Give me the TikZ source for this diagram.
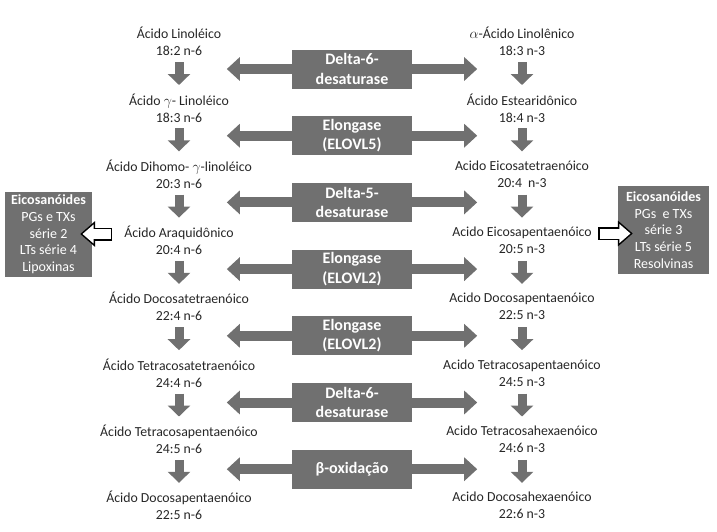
\documentclass[tikz,border=0pt]{standalone}
\usepackage{fontspec}
\setmainfont{Carlito}
\usetikzlibrary{arrows.meta,positioning}
\definecolor{boxgray}{RGB}{112,112,112}
\definecolor{txtgray}{RGB}{38,38,38}

\begin{document}
\begin{tikzpicture}[x=1pt,y=-1pt,line join=round,
	acid/.style={align=center,text=txtgray,font=\fontsize{13.8}{17}\selectfont,inner sep=0pt},
	enzbox/.style={fill=boxgray,text=white,align=center,font=\fontsize{16}{19.5}\selectfont\bfseries,minimum width=120pt,minimum height=39pt,inner sep=0pt},
	sidebox/.style={fill=boxgray,text=white,align=center,font=\fontsize{14}{16.7}\selectfont,inner sep=0pt},
	downarr/.style={boxgray,line width=9pt,-{Triangle[width=22pt,length=11pt]},shorten <=20.5pt,shorten >=22.8pt},
	sidearr/.style={boxgray,line width=10pt,-{Triangle[width=23pt,length=13pt]}},
	hollowout/.style={black,line width=13pt,-{Triangle[width=25pt,length=15pt]}},
	hollowin/.style={white,line width=10pt,-{Triangle[width=18.6pt,length=11.2pt]},shorten <=1.5pt}]
	
	\useasboundingbox (0,0) rectangle (717,531);
	
	% coluna n-6
	\node[acid] (l1) at (179,41.5) {Ácido Linoléico\\18:2 n-6};
	\node[acid] (l2) at (179,107.8) {Ácido $\gamma$- Linoléico\\18:3 n-6};
	\node[acid] (l3) at (179,174.1) {Ácido Dihomo- $\gamma$-linoléico\\20:3 n-6};
	\node[acid] (l4) at (179,240.4) {Ácido Araquidônico\\20:4 n-6};
	\node[acid] (l5) at (179,306.7) {Ácido Docosatetraenóico\\22:4 n-6};
	\node[acid] (l6) at (179,373.0) {Ácido Tetracosatetraenóico\\24:4 n-6};
	\node[acid] (l7) at (179,439.3) {Ácido Tetracosapentaenóico\\24:5 n-6};
	\node[acid] (l8) at (179,505.6) {Ácido Docosapentaenóico\\22:5 n-6};
	
	% coluna n-3
	\node[acid] (r1) at (522,41.5) {$\alpha$-Ácido Linolênico\\18:3 n-3};
	\node[acid] (r2) at (522,107.8) {Ácido Estearidônico\\18:4 n-3};
	\node[acid] (r3) at (522,174.1) {Acido Eicosatetraenóico\\20:4~ n-3};
	\node[acid] (r4) at (522,240.4) {Acido Eicosapentaenóico\\20:5 n-3};
	\node[acid] (r5) at (522,306.7) {Acido Docosapentaenóico\\22:5 n-3};
	\node[acid] (r6) at (522,373.0) {Acido Tetracosapentaenóico\\24:5 n-3};
	\node[acid] (r7) at (522,439.3) {Acido Tetracosahexaenóico\\24:6 n-3};
	\node[acid] (r8) at (522,505.6) {Acido Docosahexaenóico\\22:6 n-3};
	
	% enzimas
	\node[enzbox] (e1) at (352,69) {Delta-6-\\desaturase};
	\node[enzbox] (e2) at (352,135.7) {Elongase\\(ELOVL5)};
	\node[enzbox] (e3) at (352,202.4) {Delta-5-\\desaturase};
	\node[enzbox] (e4) at (352,269.1) {Elongase\\(ELOVL2)};
	\node[enzbox] (e5) at (352,335.8) {Elongase\\(ELOVL2)};
	\node[enzbox] (e6) at (352,402.5) {Delta-6-\\desaturase};
	\node[enzbox] (e7) at (352,469.2) {β-oxidação};
	
	% eicosanoides
	\node[sidebox,minimum width=87pt,minimum height=85pt] (eicoL) at (48.5,234.5) {\textbf{Eicosanóides}\\PGs e TXs\\série 2\\LTs série 4\\Lipoxinas};
	\node[sidebox,minimum width=91pt,minimum height=88pt] (eicoR) at (663.5,230) {\textbf{Eicosanóides}\\PGs~ e TXs\\série 3\\LTs série 5\\Resolvinas};
	
	\foreach \i/\j in {1/2,2/3,3/4,4/5,5/6,6/7,7/8}{
		\draw[downarr] (l\i.center) -- (l\j.center);
		\draw[downarr] (r\i.center) -- (r\j.center);
	}
	\foreach \k in {1,...,7}{
		\coordinate[left=65pt of e\k] (el\k);
		\coordinate[right=65pt of e\k] (er\k);
		\draw[sidearr] (e\k.west) -- (el\k);
		\draw[sidearr] (e\k.east) -- (er\k);
	}
	
	% setas vazadas
	\coordinate (tailL) at (112,234);
	\coordinate (tailR) at (598,233.5);
	\draw[hollowout,shorten >=-12pt] (tailL) -- (tailL -| eicoL.east);
	\draw[hollowin,shorten >=-9.66pt] (tailL) -- (tailL -| eicoL.east);
	\draw[hollowout,shorten >=-15pt] (tailR) -- (tailR -| eicoR.west);
	\draw[hollowin,shorten >=-12.66pt] (tailR) -- (tailR -| eicoR.west);
\end{tikzpicture}
\end{document}
